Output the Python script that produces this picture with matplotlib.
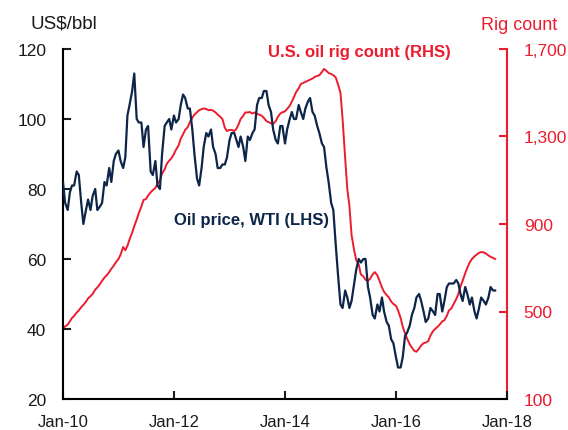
import matplotlib
matplotlib.use("Agg")
import matplotlib.pyplot as plt
import matplotlib.dates as mdates
import matplotlib.ticker as mticker
import pandas as pd

plt.rcParams['font.family'] = ['Liberation Sans', 'DejaVu Sans']

# Semi-monthly observations, Jan 2010 - Oct 2017 (two values per month)
wti = [
    # 2010
    82, 76, 74, 79, 81, 81, 85, 84, 76, 70, 74, 77, 74, 78, 80, 74, 75, 76, 82, 81, 86, 82, 88, 90,
    # 2011
    91, 88, 86, 89, 101, 104, 108, 113, 100, 99, 99, 92, 97, 98, 85, 84, 88, 81, 80, 90, 98, 99, 100, 97,
    # 2012
    101, 99, 100, 104, 107, 106, 103, 103, 97, 90, 83, 81, 86, 92, 96, 95, 97, 92, 90, 86, 86, 87, 87, 89,
    # 2013
    94, 96, 96, 94, 92, 95, 92, 88, 95, 94, 96, 97, 104, 106, 106, 108, 108, 104, 102, 97, 94, 93, 98, 98,
    # 2014
    93, 97, 100, 102, 100, 100, 104, 102, 100, 103, 105, 106, 102, 101, 98, 96, 93, 92, 86, 82, 76, 74, 64, 56,
    # 2015
    47, 46, 51, 49, 46, 48, 53, 57, 60, 59, 60, 60, 52, 49, 44, 43, 47, 45, 49, 45, 42, 41, 37, 36,
    # 2016
    32, 29, 29, 32, 38, 39, 41, 44, 46, 49, 50, 48, 45, 42, 43, 46, 45, 44, 50, 50, 45, 48, 52, 53,
    # 2017
    53, 53, 54, 53, 50, 48, 52, 50, 47, 49, 45, 43, 46, 49, 48, 47, 49, 52, 51, 51,
]

rigs = [
    # 2010
    420, 432, 440, 455, 470, 480, 495, 505, 520, 530, 545, 560, 570, 580, 600, 610, 625, 640, 655, 665, 680, 695, 710, 725,
    # 2011
    740, 760, 795, 780, 800, 830, 860, 890, 920, 950, 980, 1010, 1014, 1030, 1045, 1055, 1065, 1085, 1100, 1130, 1150, 1175, 1190, 1200,
    # 2012
    1220, 1240, 1260, 1290, 1310, 1330, 1343, 1366, 1385, 1400, 1411, 1420, 1425, 1428, 1426, 1420, 1422, 1418, 1410, 1400, 1390, 1380, 1340, 1325,
    # 2013
    1330, 1330, 1325, 1335, 1355, 1380, 1395, 1410, 1410, 1412, 1405, 1410, 1403, 1400, 1395, 1385, 1370, 1366, 1360, 1357, 1370, 1390, 1405, 1411,
    # 2014
    1415, 1426, 1440, 1460, 1480, 1503, 1520, 1540, 1545, 1550, 1555, 1560, 1565, 1572, 1577, 1580, 1595, 1609, 1600, 1590, 1586, 1580, 1570, 1540,
    # 2015
    1500, 1380, 1200, 1060, 983, 850, 780, 735, 715, 670, 660, 645, 640, 650, 670, 680, 665, 640, 610, 590, 575, 565, 545, 535,
    # 2016
    526, 505, 470, 430, 400, 375, 350, 335, 320, 316, 330, 345, 355, 358, 365, 390, 410, 420, 430, 440, 455, 460, 480, 505,
    # 2017
    515, 535, 557, 580, 615, 640, 675, 700, 725, 740, 752, 760, 768, 772, 770, 765, 756, 750, 745, 740,
]

dates = pd.date_range('2010-01-01', periods=len(wti), freq='SMS')

left_ticks = [20, 40, 60, 80, 100, 120]
right_ticks = [100, 500, 900, 1300, 1700]
x_tick_years = [2010, 2012, 2014, 2016, 2018]

NAVY = '#0c2548'
RED = '#ec1c2e'

fig = plt.figure(figsize=(5.68, 4.31), dpi=100)
ax = fig.add_axes([63/568, 1-400/431, 444/568, 350/431])
ax2 = ax.twinx()

ax2.plot(dates, rigs, color=RED, lw=1.4, zorder=2)
ax.plot(dates, wti, color=NAVY, lw=1.6, zorder=3)
ax.set_zorder(ax2.get_zorder() + 1)
ax.patch.set_visible(False)

ax.set_ylim(20, 120)
ax.set_yticks(left_ticks)
ax2.set_ylim(100, 1700)
ax2.set_yticks(right_ticks)
ax2.yaxis.set_major_formatter(mticker.FuncFormatter(lambda v, p: f'{int(v):,}'))

ax.set_xlim(pd.Timestamp('2010-01-01'), pd.Timestamp('2018-01-01'))
ax.set_xticks([pd.Timestamp(f'{y}-01-01') for y in x_tick_years])
ax.xaxis.set_major_formatter(mdates.DateFormatter('Jan-%y'))

for a in (ax, ax2):
    a.spines['top'].set_visible(False)
ax.spines['right'].set_visible(False)
ax2.spines['left'].set_visible(False)
ax2.spines['bottom'].set_visible(False)
ax.spines['left'].set_linewidth(1.5)
ax.spines['bottom'].set_linewidth(1.5)
ax2.spines['right'].set_linewidth(1.5)
ax2.spines['right'].set_color(RED)

ax.tick_params(axis='y', direction='in', length=6, width=1.5, labelsize=12.5, pad=12, colors='#1a1a1a')
ax.tick_params(axis='x', direction='in', length=6, width=1.5, labelsize=12, pad=11, colors='#1a1a1a')
ax2.tick_params(axis='y', direction='in', length=6, width=1.5, labelsize=12.5, pad=12, colors=RED)

ax.text(0.462, 0.994, 'U.S. oil rig count (RHS)', transform=ax.transAxes, color=RED,
        fontsize=12, fontweight='bold', va='center', ha='left')
ax.text(0.25, 0.514, 'Oil price, WTI (LHS)', transform=ax.transAxes, color=NAVY,
        fontsize=12, fontweight='bold', va='center', ha='left')

fig.text(30/568, 1-24/431, 'US$/bbl', fontsize=13.5, color='#1a1a1a', va='center', ha='left')
fig.text(557/568, 1-25/431, 'Rig count', fontsize=13, color=RED, va='center', ha='right')

fig.savefig('out.png', dpi=100)
